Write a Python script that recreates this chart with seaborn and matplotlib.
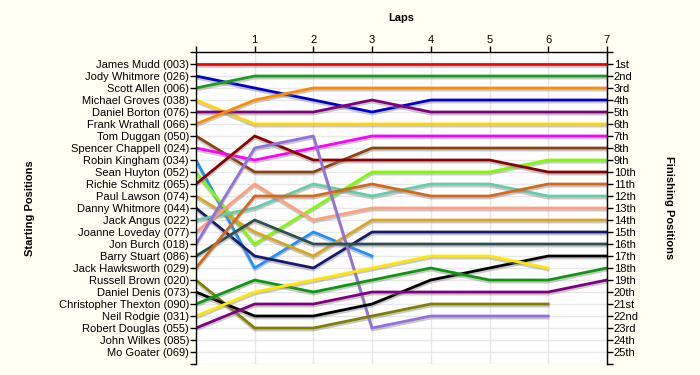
import numpy as np
import pandas as pd
import seaborn as sns
import matplotlib.pyplot as plt
import matplotlib.patheffects as pe

# Drivers in starting order
drivers = ['James Mudd (003)', 'Jody Whitmore (026)', 'Scott Allen (006)', 'Michael Groves (038)',
           'Daniel Borton (076)', 'Frank Wrathall (066)', 'Tom Duggan (050)', 'Spencer Chappell (024)',
           'Robin Kingham (034)', 'Sean Huyton (052)', 'Richie Schmitz (065)', 'Paul Lawson (074)',
           'Danny Whitmore (044)', 'Jack Angus (022)', 'Joanne Loveday (077)', 'Jon Burch (018)',
           'Barry Stuart (086)', 'Jack Hawksworth (029)', 'Russell Brown (020)', 'Daniel Denis (073)',
           'Christopher Thexton (090)', 'Neil Rodgie (031)', 'Robert Douglas (055)', 'John Wilkes (085)',
           'Mo Goater (069)']

colors = ['#ff0000', '#0000cd', '#1f9a1f', '#ffd700', '#800080', '#ff8c00', '#8b4513', '#ff00ff',
          '#1e90ff', '#7cfc00', '#8b0000', '#daa520', '#191970', '#66cdaa', '#ffa07a', '#9370db',
          '#2f4f4f', '#d2691e', '#808000', '#000000', '#119611', '#ffe800', '#800080', '#000000', '#000000']

# position after each lap (lap 0 = grid); shorter list = retired
positions = [
    [1, 1, 1, 1, 1, 1, 1, 1],
    [2, 3, 4, 5, 4, 4, 4, 4],
    [3, 2, 2, 2, 2, 2, 2, 2],
    [4, 6, 6, 6, 6, 6, 6, 6],
    [5, 5, 5, 4, 5, 5, 5, 5],
    [6, 4, 3, 3, 3, 3, 3, 3],
    [7, 10, 10, 8, 8, 8, 8, 8],
    [8, 9, 8, 7, 7, 7, 7, 7],
    [9, 18, 15, 17],
    [10, 16, 13, 10, 10, 10, 9, 9],
    [11, 7, 9, 9, 9, 9, 10, 10],
    [12, 15, 17, 14, 14, 14, 14, 14],
    [13, 17, 18, 15, 15, 15, 15, 15],
    [14, 13, 11, 12, 11, 11, 12, 12],
    [15, 11, 14, 13, 13, 13, 13, 13],
    [16, 8, 7, 23, 22, 22, 22],
    [17, 14, 16, 16, 16, 16, 16, 16],
    [18, 12, 12, 11, 12, 12, 11, 11],
    [19, 23, 23, 22, 21, 21, 21],
    [20, 22, 22, 21, 19, 18, 17, 17],
    [21, 19, 20, 19, 18, 19, 19, 18],
    [22, 20, 19, 18, 17, 17, 18],
    [23, 21, 21, 20, 20, 20, 20, 19],
    [],
    [],
]

finish_labels = ['1st', '2nd', '3rd'] + [f'{i}th' for i in range(4, 21)] + ['21st', '22nd', '23rd', '24th', '25th']
laps = 7

rows = []
for name, pos in zip(drivers, positions):
    for lap, p in enumerate(pos):
        rows.append({'driver': name, 'lap': lap, 'pos': p})
df = pd.DataFrame(rows)
palette = dict(zip(drivers, colors))

plt.rcParams['font.family'] = ['Liberation Sans', 'DejaVu Sans']
fig = plt.figure(figsize=(7, 3.75), dpi=100, facecolor='#fffff4')
ax = fig.add_axes([0.28, 0.0293, 0.587, 0.832])
ax.set_facecolor('white')

sns.lineplot(data=df, x='lap', y='pos', hue='driver', hue_order=[d for d, p in zip(drivers, positions) if p],
             palette=palette, estimator=None, linewidth=2.0, legend=False, ax=ax)
for ln in ax.lines:
    ln.set_path_effects([pe.SimpleLineShadow(offset=(0, -1.5), shadow_color='#888888', alpha=0.45),
                         pe.Normal()])

ax.set_xlim(0, laps)
ax.set_ylim(26, 0)
ax.xaxis.tick_top()
ax.set_xticks(range(laps + 1))
ax.set_xticklabels([''] + [str(i) for i in range(1, laps + 1)])
ax.set_yticks(range(27))
ax.set_yticklabels([''] + drivers + [''])
ax.grid(True, color='#e8e8e8', linewidth=1)
ax.set_axisbelow(True)
ax.set_xlabel('')
ax.set_ylabel('')
ax.tick_params(axis='both', labelsize=8, length=4, width=1, pad=1, colors='black')
for s in ['top', 'left', 'right']:
    ax.spines[s].set_color('black')
    ax.spines[s].set_linewidth(1)
ax.spines['bottom'].set_visible(False)

ax2 = ax.twinx()
ax2.set_ylim(26, 0)
ax2.set_yticks(range(27))
ax2.set_yticklabels([''] + finish_labels + [''])
ax2.tick_params(axis='y', labelsize=8, length=4, width=1, pad=1)
ax2.spines['bottom'].set_visible(False)
ax2.spines['top'].set_visible(False)
ax2.spines['left'].set_visible(False)

fig.text(0.573, 0.952, 'Laps', ha='center', va='center', fontsize=8, fontweight='bold')
fig.text(0.043, 0.445, 'Starting Positions', ha='center', va='center', rotation=90,
         fontsize=8, fontweight='bold')
fig.text(0.955, 0.445, 'Finishing Positions', ha='center', va='center', rotation=-90,
         fontsize=8, fontweight='bold')

fig.savefig('out.png', dpi=100, facecolor=fig.get_facecolor())
